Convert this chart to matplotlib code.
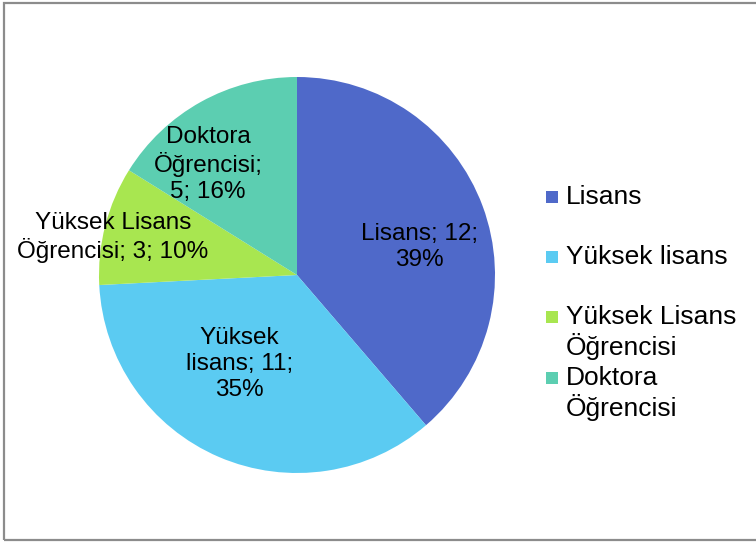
import matplotlib.pyplot as plt
from matplotlib.patches import Rectangle

plt.rcParams['font.family'] = ['Liberation Sans', 'DejaVu Sans']

# Veriler
kategoriler = ['Lisans', 'Yüksek lisans', 'Yüksek Lisans\nÖğrencisi', 'Doktora\nÖğrencisi']
degerler = [12, 11, 3, 5]
yuzdeler = ['39%', '35%', '10%', '16%']
renkler = ['#4F69C9', '#5BCBF2', '#A8E650', '#5CCEB1']

# Dilim etiketleri (metin ve konum)
etiketler = ['Lisans; 12;\n39%', 'Yüksek\nlisans; 11;\n35%',
             'Yüksek Lisans\nÖğrencisi; 3; 10%', 'Doktora\nÖğrencisi;\n5; 16%']
etiket_konum = [(0.62, 0.14), (-0.29, -0.45), (-0.93, 0.19), (-0.45, 0.56)]

W, H = 756, 543
fig = plt.figure(figsize=(W / 100, H / 100), dpi=100)

# Çerçeve
fig.patches.append(Rectangle((4 / W, 3 / H), 1.2, 537 / H, transform=fig.transFigure,
                             fill=False, edgecolor='#8C8C8C', linewidth=1.6))

cx, cy, r = 297, 543 - 275, 198
ax = fig.add_axes([(cx - r) / W, (cy - r) / H, 2 * r / W, 2 * r / H])
ax.pie(degerler, colors=renkler, startangle=90, counterclock=False, radius=1,
       wedgeprops=dict(linewidth=0))
ax.set_xlim(-1, 1)
ax.set_ylim(-1, 1)
ax.set_aspect('equal')

for metin, (x, y) in zip(etiketler, etiket_konum):
    ax.text(x, y, metin, ha='center', va='center', fontsize=17.5,
            linespacing=1.22, color='black')

# Efsane (Excel düzeninde)
leg_y = [197, 257, 317, 378]
satir = 31
for ad, renk, y in zip(kategoriler, renkler, leg_y):
    fig.patches.append(Rectangle((546 / W, (H - y - 6) / H), 12 / W, 12 / H,
                                 transform=fig.transFigure, facecolor=renk, edgecolor='none'))
    n = ad.count('\n')
    fig.text(566 / W, (H - y - n * satir / 2) / H, ad, ha='left', va='center',
             fontsize=19, linespacing=1.2)

plt.savefig('out.png', dpi=100)
